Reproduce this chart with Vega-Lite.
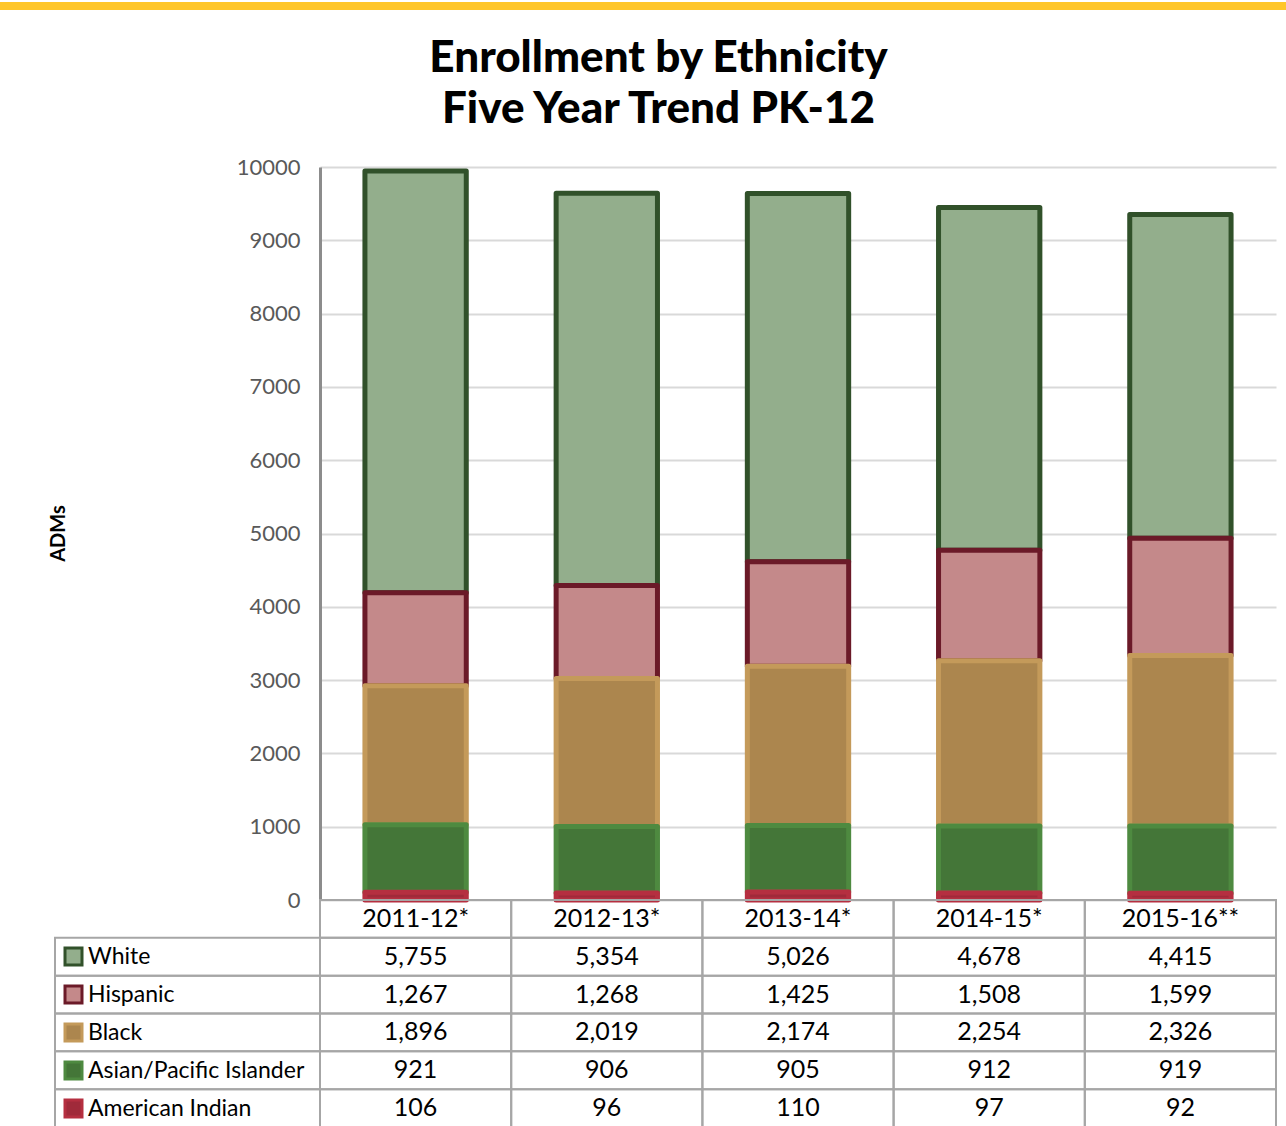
{
  "$schema": "https://vega.github.io/schema/vega-lite/v6.json",
  "background": "white",
  "padding": 0,
  "spacing": 26,
  "config": {
    "font": "Lato",
    "view": {"stroke": null},
    "concat": {"spacing": 0},
    "legend": {
      "orient": "none",
      "legendX": 62,
      "legendY": 943,
      "title": null,
      "padding": 0,
      "symbolType": "square",
      "symbolSize": 289,
      "symbolStrokeWidth": 3,
      "symbolOpacity": 1,
      "labelFontSize": 23,
      "labelColor": "black",
      "labelOffset": 3,
      "labelLimit": 400,
      "rowPadding": 9
    }
  },
  "datasets": {
    "enroll": [
      {"year": "2011-12*", "eth": "White", "value": 5755},
      {"year": "2012-13*", "eth": "White", "value": 5354},
      {"year": "2013-14*", "eth": "White", "value": 5026},
      {"year": "2014-15*", "eth": "White", "value": 4678},
      {"year": "2015-16**", "eth": "White", "value": 4415},
      {"year": "2011-12*", "eth": "Hispanic", "value": 1267},
      {"year": "2012-13*", "eth": "Hispanic", "value": 1268},
      {"year": "2013-14*", "eth": "Hispanic", "value": 1425},
      {"year": "2014-15*", "eth": "Hispanic", "value": 1508},
      {"year": "2015-16**", "eth": "Hispanic", "value": 1599},
      {"year": "2011-12*", "eth": "Black", "value": 1896},
      {"year": "2012-13*", "eth": "Black", "value": 2019},
      {"year": "2013-14*", "eth": "Black", "value": 2174},
      {"year": "2014-15*", "eth": "Black", "value": 2254},
      {"year": "2015-16**", "eth": "Black", "value": 2326},
      {"year": "2011-12*", "eth": "Asian/Pacific Islander", "value": 921},
      {"year": "2012-13*", "eth": "Asian/Pacific Islander", "value": 906},
      {"year": "2013-14*", "eth": "Asian/Pacific Islander", "value": 905},
      {"year": "2014-15*", "eth": "Asian/Pacific Islander", "value": 912},
      {"year": "2015-16**", "eth": "Asian/Pacific Islander", "value": 919},
      {"year": "2011-12*", "eth": "American Indian", "value": 106},
      {"year": "2012-13*", "eth": "American Indian", "value": 96},
      {"year": "2013-14*", "eth": "American Indian", "value": 110},
      {"year": "2014-15*", "eth": "American Indian", "value": 97},
      {"year": "2015-16**", "eth": "American Indian", "value": 92}
    ]
  },
  "vconcat": [
    {
      "width": 1286,
      "height": 8,
      "view": {"fill": "#FFC629", "stroke": null},
      "data": {"values": [{}]},
      "mark": {"type": "text"},
      "encoding": {"text": {"value": ""}}
    },
    {
      "title": {
        "text": ["Enrollment by Ethnicity", "Five Year Trend PK-12"],
        "fontSize": 44,
        "fontWeight": 900,
        "lineHeight": 51,
        "color": "black",
        "anchor": "middle",
        "dx": 20,
        "offset": 24
      },
      "columns": 3,
      "spacing": 0,
      "bounds": "flush",
      "concat": [
        {
          "width": 55,
          "height": 733,
          "data": {"values": [{}]},
          "mark": {"type": "text"},
          "encoding": {"text": {"value": ""}}
        },
        {
          "width": 265,
          "height": 733,
          "data": {"values": [{}]},
          "mark": {"type": "text"},
          "encoding": {"text": {"value": ""}}
        },
        {
          "width": 956,
          "height": 733,
          "data": {"name": "enroll"},
          "mark": {"type": "bar", "strokeWidth": 5, "strokeJoin": "round"},
          "encoding": {
            "x": {
              "field": "year",
              "type": "nominal",
              "sort": ["2011-12*", "2012-13*", "2013-14*", "2014-15*", "2015-16**"],
              "scale": {"paddingInner": 0.47, "paddingOuter": 0.235},
              "axis": null
            },
            "y": {
              "field": "value",
              "type": "quantitative",
              "stack": "zero",
              "scale": {"domain": [0, 10000], "nice": false},
              "axis": {
                "values": [0, 1000, 2000, 3000, 4000, 5000, 6000, 7000, 8000, 9000, 10000],
                "format": "d",
                "ticks": false,
                "domainColor": "#8C8C8C",
                "domainWidth": 3,
                "gridColor": "#D9D9D9",
                "gridWidth": 2,
                "labelFontSize": 22,
                "labelColor": "#595959",
                "labelPadding": 20,
                "title": "ADMs",
                "titleFontSize": 20,
                "titleFontWeight": "bold",
                "titleColor": "black",
                "titleX": -252,
                "titleY": 366,
                "titleAngle": -90,
                "titleBaseline": "bottom",
                "titleAlign": "center"
              }
            },
            "fill": {
              "field": "eth",
              "type": "nominal",
              "scale": {
                "domain": ["White", "Hispanic", "Black", "Asian/Pacific Islander", "American Indian"],
                "range": ["#93AE8C", "#C4898A", "#AC864E", "#447638", "#A02A3A"]
              }
            },
            "stroke": {
              "field": "eth",
              "type": "nominal",
              "scale": {
                "domain": ["White", "Hispanic", "Black", "Asian/Pacific Islander", "American Indian"],
                "range": ["#31512A", "#6B1A28", "#C49A5A", "#4E8A40", "#B52F40"]
              }
            },
            "order": {"field": "eth", "type": "ordinal", "sort": "ascending"}
          }
        },
        {
          "width": 55,
          "height": 227,
          "data": {"values": [{}]},
          "mark": {"type": "text"},
          "encoding": {"text": {"value": ""}}
        },
        {
          "width": 265,
          "height": 227,
          "data": {"name": "enroll"},
          "transform": [{"filter": "datum.year === '2011-12*'"}],
          "mark": {"type": "rect", "filled": false, "color": "#A6A6A6", "strokeWidth": 2},
          "encoding": {
            "y": {
              "field": "eth",
              "type": "nominal",
              "scale": {
                "domain": ["hdr", "White", "Hispanic", "Black", "Asian/Pacific Islander", "American Indian"],
                "paddingInner": 0,
                "paddingOuter": 0
              },
              "axis": null
            }
          }
        },
        {
          "width": 956,
          "height": 227,
          "data": {"name": "enroll"},
          "encoding": {
            "x": {
              "field": "year",
              "type": "nominal",
              "scale": {
                "domain": ["2011-12*", "2012-13*", "2013-14*", "2014-15*", "2015-16**"],
                "paddingInner": 0,
                "paddingOuter": 0
              },
              "axis": null
            }
          },
          "layer": [
            {
              "mark": {"type": "rect", "filled": false, "color": "#A6A6A6", "strokeWidth": 2},
              "encoding": {
                "y": {
                  "field": "eth",
                  "type": "nominal",
                  "scale": {
                    "domain": ["hdr", "White", "Hispanic", "Black", "Asian/Pacific Islander", "American Indian"],
                    "paddingInner": 0,
                    "paddingOuter": 0
                  },
                  "axis": null
                }
              }
            },
            {
              "transform": [{"filter": "datum.eth === 'White'"}],
              "mark": {"type": "rect", "filled": false, "color": "#A6A6A6", "strokeWidth": 2},
              "encoding": {"y": {"datum": "hdr", "type": "nominal"}}
            },
            {
              "mark": {"type": "text", "fontSize": 25, "color": "black"},
              "encoding": {
                "y": {"field": "eth", "type": "nominal"},
                "text": {"field": "value", "type": "quantitative", "format": ","}
              }
            },
            {
              "transform": [{"filter": "datum.eth === 'White'"}],
              "mark": {"type": "text", "fontSize": 25, "color": "black"},
              "encoding": {
                "y": {"datum": "hdr", "type": "nominal"},
                "text": {"field": "year", "type": "nominal"}
              }
            }
          ]
        }
      ]
    }
  ]
}
